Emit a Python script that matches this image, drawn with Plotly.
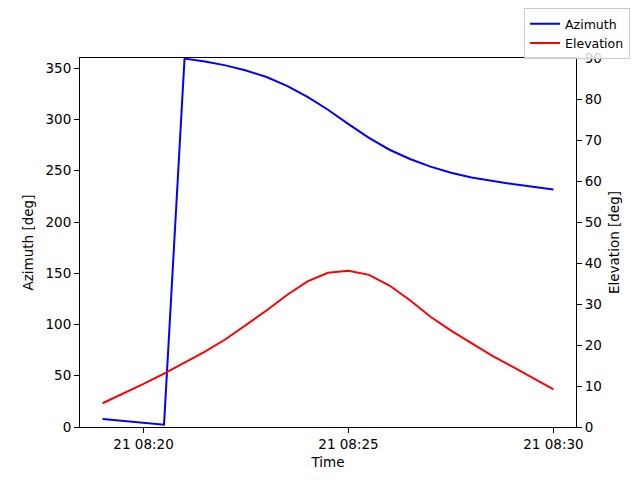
import plotly.graph_objects as go

# 30 s samples, 08:19 -> 08:30
times = ['2023-06-21 08:19:00', '2023-06-21 08:19:30', '2023-06-21 08:20:00', '2023-06-21 08:20:30',
         '2023-06-21 08:21:00', '2023-06-21 08:21:30', '2023-06-21 08:22:00', '2023-06-21 08:22:30',
         '2023-06-21 08:23:00', '2023-06-21 08:23:30', '2023-06-21 08:24:00', '2023-06-21 08:24:30',
         '2023-06-21 08:25:00', '2023-06-21 08:25:30', '2023-06-21 08:26:00', '2023-06-21 08:26:30',
         '2023-06-21 08:27:00', '2023-06-21 08:27:30', '2023-06-21 08:28:00', '2023-06-21 08:28:30',
         '2023-06-21 08:29:00', '2023-06-21 08:29:30', '2023-06-21 08:30:00']
azimuth = [7.8, 6.0, 4.2, 2.3, 359.4, 356.5, 352.8, 347.8, 341.4, 332.8, 322.0, 309.5,
           295.5, 282.0, 270.5, 261.5, 254.0, 248.0, 243.5, 240.0, 237.0, 234.3, 231.7]
elevation = [5.8, 8.1, 10.5, 13.0, 15.6, 18.4, 21.4, 24.8, 28.4, 32.2, 35.5, 37.6,
             38.1, 37.1, 34.5, 30.9, 26.9, 23.5, 20.4, 17.4, 14.7, 11.9, 9.2]

x_tickvals = ['2023-06-21 08:20:00', '2023-06-21 08:25:00', '2023-06-21 08:30:00']
x_ticktext = ['21 08:20', '21 08:25', '21 08:30']
az_ticks = [0, 50, 100, 150, 200, 250, 300, 350]
el_ticks = [0, 10, 20, 30, 40, 50, 60, 70, 80, 90]

font = dict(family="DejaVu Sans", size=13.5, color="black")

fig = go.Figure()
fig.add_trace(go.Scatter(x=times, y=azimuth, mode="lines", name="Azimuth",
                         line=dict(color="blue", width=2)))
fig.add_trace(go.Scatter(x=times, y=elevation, mode="lines", name="Elevation",
                         line=dict(color="red", width=2), yaxis="y2"))

axis_common = dict(showgrid=False, zeroline=False, showline=True, linecolor="black", linewidth=1,
                   ticks="outside", ticklen=5, tickcolor="black", tickfont=font, automargin=False)

# page body has an 8px margin, so the figure is sized to fit inside it
fig.update_layout(
    width=624, height=464, autosize=False,
    margin=dict(l=72, r=56, t=50, b=45, autoexpand=False),
    paper_bgcolor="white", plot_bgcolor="white",
    font=font,
    xaxis=dict(axis_common, range=['2023-06-21 08:18:27', '2023-06-21 08:30:33'],
               tickvals=x_tickvals, ticktext=x_ticktext, mirror=True,
               title=dict(text="Time", font=font, standoff=6)),
    yaxis=dict(axis_common, range=[0, 360], tickvals=az_ticks, mirror=True,
               title=dict(text="Azimuth [deg]", font=font, standoff=8)),
    yaxis2=dict(axis_common, range=[0, 90], tickvals=el_ticks, overlaying="y", side="right",
                title=dict(text="Elevation [deg]", font=font, standoff=8)),
    legend=dict(x=1.109, y=1.135, xanchor="right", yanchor="top",
                bordercolor="#cccccc", borderwidth=1, bgcolor="rgba(255,255,255,0.8)",
                font=dict(family="DejaVu Sans", size=12.5, color="black"),
                tracegroupgap=0, itemwidth=30),
    showlegend=True,
)

fig.write_html("out.html")
